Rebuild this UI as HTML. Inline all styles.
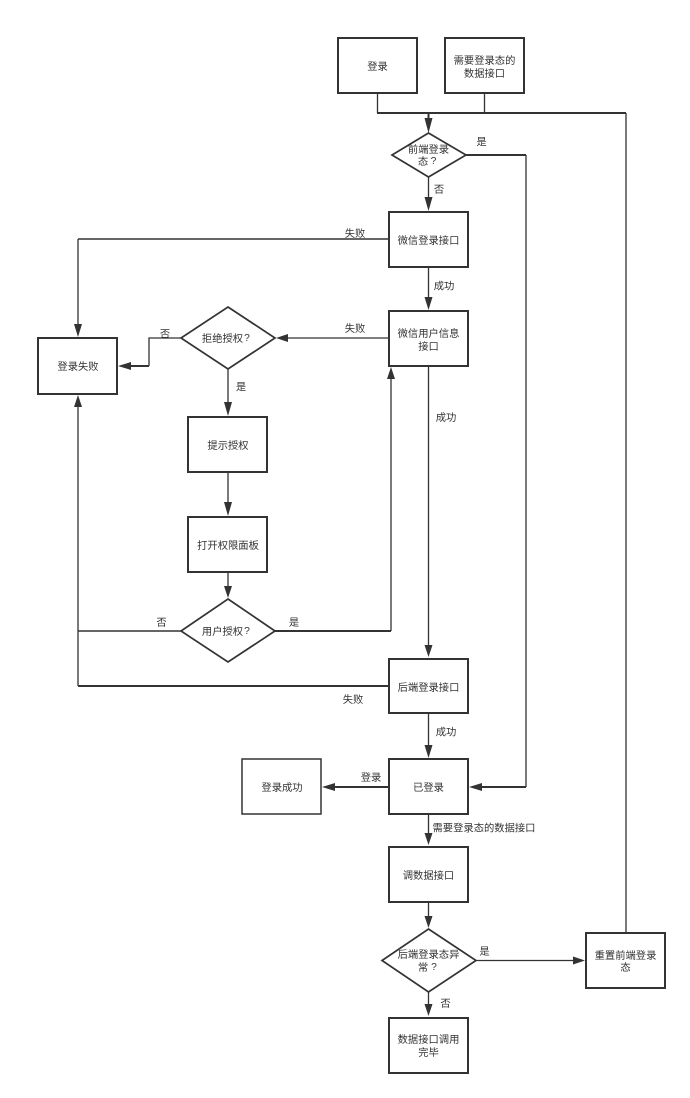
<!DOCTYPE html>
<html lang="zh">
<head>
<meta charset="utf-8">
<title>登录流程图</title>
<style>
html,body{margin:0;padding:0;background:#fff;width:690px;height:1098px;overflow:hidden}
svg{display:block;filter:blur(0.35px)}
text{font-family:"Liberation Sans","Noto Sans CJK SC",sans-serif;font-size:10.3px;fill:#333;text-anchor:middle;dominant-baseline:central}
.b{fill:#fff;stroke:#333;stroke-width:2}
.l{fill:none;stroke:#333;stroke-width:1.3}
.t{fill:none;stroke:#333;stroke-width:2}
.a{fill:#333;stroke:none}
</style>
</head>
<body>
<svg width="690" height="1098" viewBox="0 0 690 1098" xmlns="http://www.w3.org/2000/svg">
<rect width="690" height="1098" fill="#fff"/>

<!-- connectors -->
<path class="l" d="M377.500 93V113M484.500 93V113"/>
<path class="t" d="M377 113H626"/>
<path class="l" d="M626 113V933"/>
<path class="t" d="M428.500 113V122"/>
<path class="t" d="M466 155H526"/>
<path class="l" d="M526 155V787"/>
<path class="t" d="M526 787H480"/>
<path class="l" d="M428.500 177V200"/>
<path class="t" d="M389 239H78" style="stroke-width:1.500"/>
<path class="l" d="M78 239V326"/>
<path class="l" d="M428.500 267V298"/>
<path class="l" d="M389 338H286"/>
<path class="l" d="M181 338H149V366"/>
<path class="t" d="M149 366H129"/>
<path class="l" d="M228 369V404"/>
<path class="l" d="M228 472V504"/>
<path class="l" d="M228 572V587"/>
<path class="t" d="M275 631H391"/>
<path class="l" d="M391 631V378"/>
<path class="t" d="M181 631H78" style="stroke-width:1.500"/>
<path class="t" d="M389 686H78"/>
<path class="l" d="M78 686V405"/>
<path class="l" d="M428.500 366V647"/>
<path class="l" d="M428.500 713V747"/>
<path class="t" d="M389 787H333"/>
<path class="l" d="M428.500 814V836"/>
<path class="l" d="M428.500 902V918"/>
<path class="l" d="M476 960.500H575"/>
<path class="l" d="M428.500 992V1006"/>

<!-- arrowheads -->
<path class="a" d="M428.500 133L424.500 118H432.500Z"/>
<path class="a" d="M428.500 211L424.500 197H432.500Z"/>
<path class="a" d="M78 337L74 324H82Z"/>
<path class="a" d="M428.500 310L424.500 297H432.500Z"/>
<path class="a" d="M276 338L288 334V342Z"/>
<path class="a" d="M118 366L131 362V370Z"/>
<path class="a" d="M228 416L224 402H232Z"/>
<path class="a" d="M228 516L224 502H232Z"/>
<path class="a" d="M228 598L224 586H232Z"/>
<path class="a" d="M391 367L387 379H395Z"/>
<path class="a" d="M78 395L74 407H82Z"/>
<path class="a" d="M428.500 657L424.500 645H432.500Z"/>
<path class="a" d="M428.500 758L424.500 745H432.500Z"/>
<path class="a" d="M469 787L482 783V791Z"/>
<path class="a" d="M322 787L335 783V791Z"/>
<path class="a" d="M428.500 845L424.500 833H432.500Z"/>
<path class="a" d="M428.500 928L424.500 916H432.500Z"/>
<path class="a" d="M585 960.500L573 956.500V964.500Z"/>
<path class="a" d="M428.500 1016L424.500 1004H432.500Z"/>

<!-- boxes -->
<rect class="b" x="338" y="38" width="79" height="55"/>
<rect class="b" x="445" y="38" width="79" height="55"/>
<rect class="b" x="389" y="212" width="79" height="55"/>
<rect class="b" x="389" y="311" width="79" height="55"/>
<rect class="b" x="38" y="338" width="79" height="56"/>
<rect class="b" x="188" y="417" width="79" height="55"/>
<rect class="b" x="188" y="517" width="79" height="55"/>
<rect class="b" x="389" y="659" width="79" height="54"/>
<rect class="b" x="242" y="759" width="79" height="55" style="stroke-width:1.500"/>
<rect class="b" x="389" y="759" width="79" height="55"/>
<rect class="b" x="389" y="847" width="79" height="55"/>
<rect class="b" x="586" y="933" width="79" height="55"/>
<rect class="b" x="389" y="1018" width="79" height="55"/>

<!-- diamonds -->
<path class="b" style="stroke-width:1.700" d="M428.500 133L466 155L428.500 177L392 155Z"/>
<path class="b" style="stroke-width:1.700" d="M228 307L275 338L228 369L181 338Z"/>
<path class="b" style="stroke-width:1.700" d="M228 599L275 631L228 662L181 631Z"/>
<path class="b" style="stroke-width:1.700" d="M428.500 929L476 960.500L428.500 992L382 960.500Z"/>

<g transform="translate(0,1.5)">
<!-- node labels -->
<text x="377.500" y="66">登录</text>
<text x="484.500" y="60">需要登录态的</text>
<text x="484.500" y="73">数据接口</text>
<text x="428.500" y="149">前端登录</text>
<text x="423" y="161">态</text><text x="433.500" y="160">?</text>
<text x="428.500" y="240">微信登录接口</text>
<text x="428.500" y="333">微信用户信息</text>
<text x="428.500" y="346">接口</text>
<text x="222.500" y="338">拒绝授权</text><text x="247" y="337">?</text>
<text x="78" y="366">登录失败</text>
<text x="228" y="445">提示授权</text>
<text x="228" y="545">打开权限面板</text>
<text x="222.500" y="631">用户授权</text><text x="247" y="630">?</text>
<text x="428.500" y="687">后端登录接口</text>
<text x="282" y="787">登录成功</text>
<text x="428.500" y="787">已登录</text>
<text x="428.500" y="875">调数据接口</text>
<text x="428.500" y="954">后端登录态异</text>
<text x="423" y="967">常</text><text x="434" y="966">?</text>
<text x="625.500" y="955">重置前端登录</text>
<text x="625.500" y="967">态</text>
<text x="428.500" y="1039">数据接口调用</text>
<text x="428.500" y="1052">完毕</text>

<!-- edge labels -->
<text x="481.500" y="141.500">是</text>
<text x="439" y="189">否</text>
<text x="355" y="233">失败</text>
<text x="444" y="285.500">成功</text>
<text x="355" y="328">失败</text>
<text x="165" y="333.500">否</text>
<text x="241" y="386.500">是</text>
<text x="446" y="417">成功</text>
<text x="161.500" y="622">否</text>
<text x="294" y="622">是</text>
<text x="353" y="699">失败</text>
<text x="446" y="731.500">成功</text>
<text x="371" y="777">登录</text>
<text x="484" y="827.500">需要登录态的数据接口</text>
<text x="484.500" y="951">是</text>
<text x="445.500" y="1003">否</text>
</g>
</svg>
</body>
</html>
